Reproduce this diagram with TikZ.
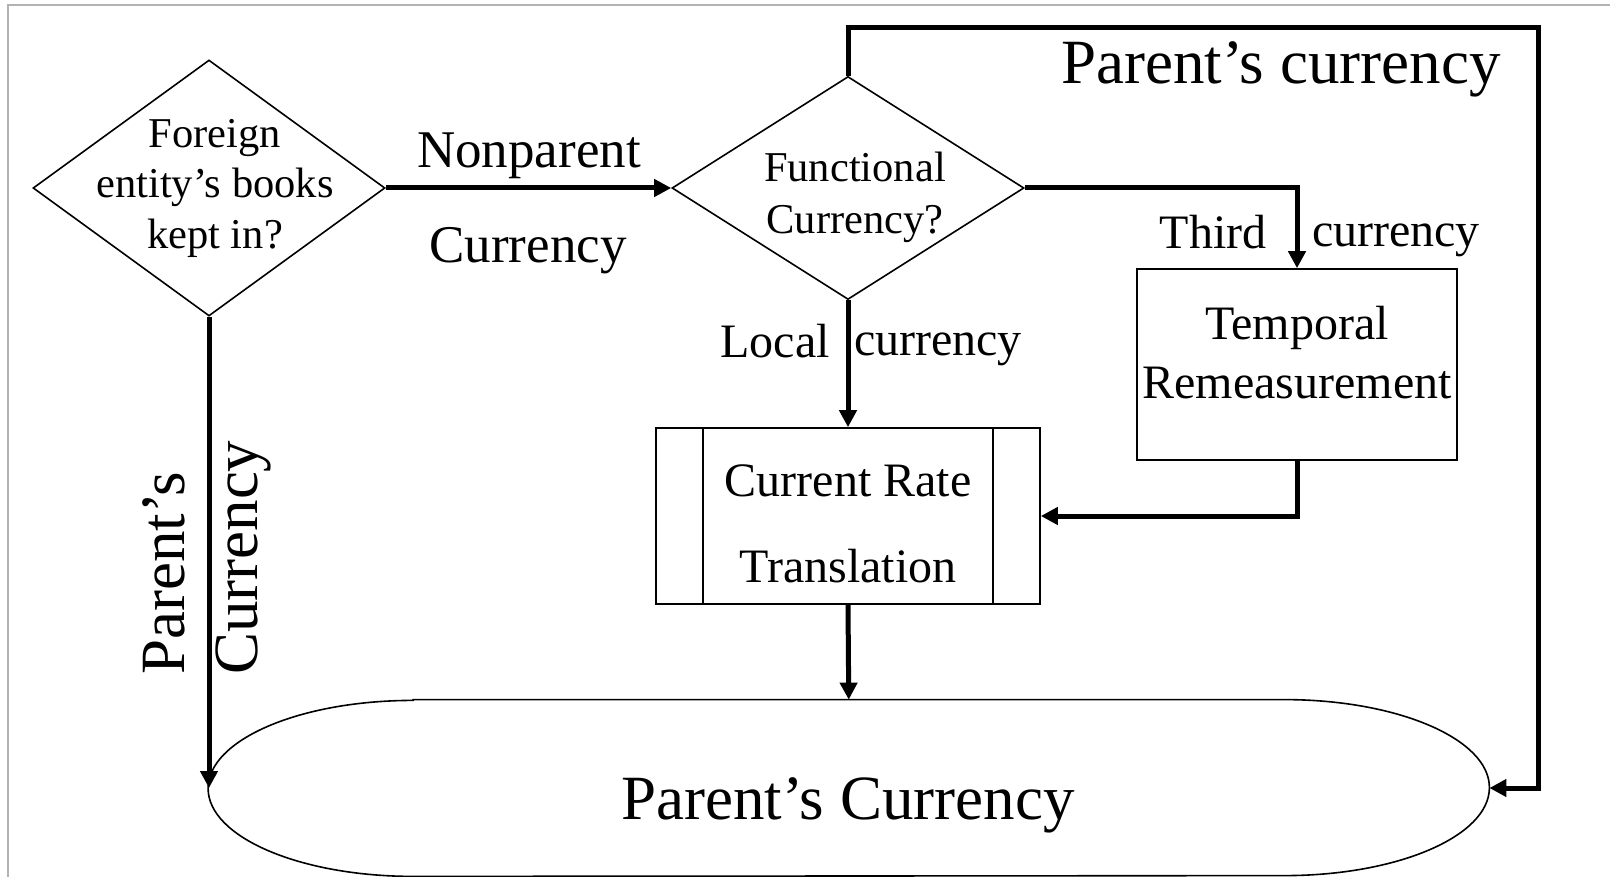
\documentclass[tikz,border=0pt]{standalone}
\usepackage{fontspec}
\setmainfont{Liberation Serif}
\usetikzlibrary{arrows.meta,shapes.geometric,calc}

\begin{document}
\begin{tikzpicture}[x=0.5pt, y=-0.5pt,
  conn/.style={line width=2.5pt, -{Triangle[length=8.5pt,width=8.5pt]}},
  dec/.style={diamond, draw, line width=0.8pt, inner sep=0pt},
  box/.style={rectangle, draw, line width=0.8pt, align=center},
  big/.style={font=\fontsize{31.5}{36}\selectfont},
  mid/.style={font=\fontsize{26.5}{30}\selectfont},
  lab/.style={font=\fontsize{24}{28}\selectfont},
  small/.style={font=\fontsize{21.25}{25.25}\selectfont, align=center}]
\useasboundingbox (0,0) rectangle (1610,877);
\draw[gray!60, line width=1pt] (8,877) -- (8,5) -- (1610,5);

\node[dec, minimum width=176pt, minimum height=128pt] (books) at (209,188) {};
\node[dec, minimum width=176pt, minimum height=111.5pt] (func) at (848,188) {};
\node[box, minimum width=160pt, minimum height=95.5pt] (temp) at (1297,364.5) {};
\node[box, minimum width=192pt, minimum height=88pt] (crt) at (848,516) {};
\node[minimum width=640.25pt, minimum height=88pt, inner sep=0pt] (final) at (848.75,788) {};
\coordinate (loop) at (1538,27.7);

% shapes
\draw[line width=0.8pt] ($(crt.north west)+(24pt,0)$) -- ($(crt.south west)+(24pt,0)$);
\draw[line width=0.8pt] ($(crt.north east)+(-24pt,0)$) -- ($(crt.south east)+(-24pt,0)$);
\draw[line width=0.8pt] ($(final.north west)+(102.5pt,0)$) -- ($(final.north east)+(-102.5pt,0)$)
  arc[start angle=90, end angle=-90, x radius=102.5pt, y radius=44pt]
  -- ($(final.south west)+(102.5pt,0)$)
  arc[start angle=270, end angle=90, x radius=102.5pt, y radius=44pt] -- cycle;

% texts
\node[small] (bookstxt) at (215,188) {Foreign\\entity’s books\\kept in?};
\node[small, font=\fontsize{21.25}{26}\selectfont] (functxt) at (855,197) {Functional\\Currency?};
\node[align=center, font=\fontsize{24}{29.5}\selectfont] (temptxt) at (1297,353) {Temporal\\Remeasurement};
\node[align=center, font=\fontsize{24}{43}\selectfont] (crttxt) at (848,524) {Current Rate\\Translation};
\node[big] (finaltxt) at (848,805) {Parent’s Currency};

% connectors
\draw[conn] (books.east) -- (func.west);
\draw[conn] (books.south) -- (books.south |- final.west);
\draw[conn] (func.north) |- (loop) |- (final.east);
\draw[conn] (func.east) -| (temp.north);
\draw[conn] (temp.south) |- (crt.east);
\foreach \a/\b in {func.south/crt.north, crt.south/final.north}
{ \draw[conn] (\a) -- (\b); }

% labels
\node[mid] (np1) at (529,156) {Nonparent};
\node[mid] (np2) at (528,251) {Currency};
\node[big] (pc) at (1281,69) {Parent’s currency};
\node[lab] (third) at (1213,232) {Third};
\node[lab] (thirdc) at (1396,240) {currency};
\node[lab] (local) at (775,341) {Local};
\node[lab] (localc) at (938,349) {currency};
\node[big, rotate=90, anchor=west] (pp1) at (164,682) {Parent’s};
\node[big, rotate=90, anchor=west] (pp2) at (243,682) {Currency};

\end{tikzpicture}
\end{document}
